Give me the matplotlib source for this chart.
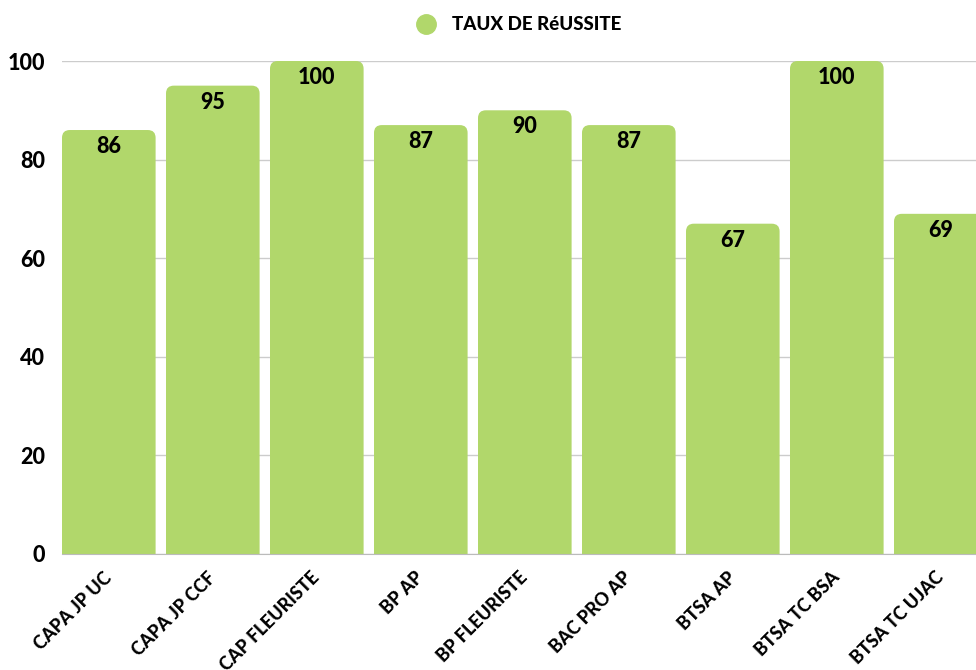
import matplotlib
matplotlib.use("Agg")
import matplotlib.pyplot as plt
from matplotlib.patches import FancyBboxPatch
from matplotlib.lines import Line2D
from matplotlib.transforms import ScaledTranslation

categories = ["CAPA JP UC", "CAPA JP CCF", "CAP FLEURISTE", "BP AP", "BP FLEURISTE",
              "BAC PRO AP", "BTSA AP", "BTSA TC BSA", "BTSA TC UJAC"]
values = [86, 95, 100, 87, 90, 87, 67, 100, 69]
series_name = "TAUX DE RéUSSITE"
yticks = [0, 20, 40, 60, 80, 100]

GREEN = "#B1D76B"
FONT = ["Lato", "DejaVu Sans"]

fig = plt.figure(figsize=(9.76, 6.70), dpi=100)
ax = fig.add_axes([62/976, 116/670, 925.6/976, 493/670])

x = list(range(len(categories)))
bars = ax.bar(x, values, width=0.9, color=GREEN, zorder=2)
# replace with rounded-top bars derived from the bar geometry
for rect in bars:
    bx, by = rect.get_x(), rect.get_y()
    bw, bh = rect.get_width(), rect.get_height()
    rect.set_visible(False)
    r = 0.075
    p = FancyBboxPatch((bx, by - 3), bw, bh + 3,
                       boxstyle=f"round,pad=0,rounding_size={r}",
                       mutation_aspect=21, facecolor=GREEN, edgecolor="none",
                       zorder=2, clip_on=True)
    ax.add_patch(p)

for xi, v in zip(x, values):
    ax.annotate(str(v), (xi, v), xytext=(0, -12), textcoords="offset points",
                ha="center", va="center", fontsize=15.5, fontweight="black",
                family=FONT, color="black", zorder=3)

ax.set_xlim(-0.45, len(categories) - 0.55)
ax.set_ylim(0, 100)
ax.set_yticks(yticks)
ax.set_yticklabels([str(t) for t in yticks], fontsize=15.5, fontweight="black", family=FONT)
ax.set_xticks(x)
ax.set_xticklabels(categories, rotation=45, ha="right", va="center",
                   rotation_mode="anchor", fontsize=13, fontweight="black", family=FONT)
shift = ScaledTranslation(8/100, 0, fig.dpi_scale_trans)
for lbl in ax.get_xticklabels():
    lbl.set_transform(lbl.get_transform() + shift)
ax.tick_params(axis="y", length=0, pad=12)
ax.tick_params(axis="x", length=0, pad=15)
ax.grid(axis="y", color="#cccccc", linewidth=1, zorder=0)
ax.set_axisbelow(True)
for s in ["top", "right", "left"]:
    ax.spines[s].set_visible(False)
ax.spines["bottom"].set_color("#bbbbbb")

handle = Line2D([], [], marker="o", linestyle="none", markersize=14,
                markerfacecolor=GREEN, markeredgecolor=GREEN)
fig.legend([handle], [series_name], loc="center", bbox_to_anchor=(0.527, 0.963),
           frameon=False, handletextpad=0.4,
           prop={"family": FONT, "weight": "black", "size": 13.5})

fig.savefig("out.png", dpi=100)
